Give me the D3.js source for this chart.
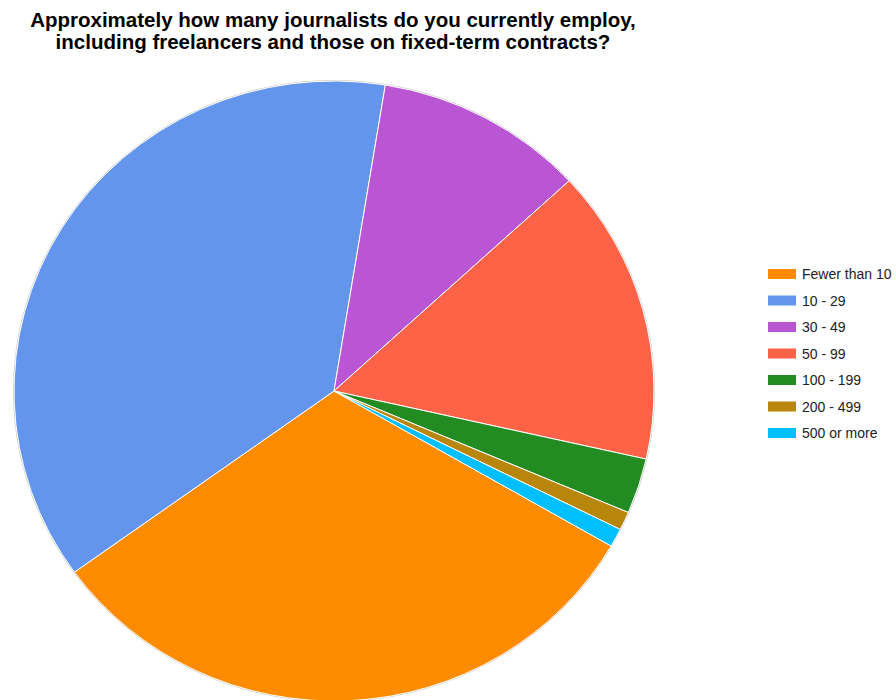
<!DOCTYPE html>
<html>
<head>
<meta charset="utf-8">
<script src="https://cdn.jsdelivr.net/npm/d3@7"></script>
<style>
  html, body { margin: 0; padding: 0; background: #fff; }
  svg { display: block; font-family: Arial, "Liberation Sans", sans-serif; }
</style>
</head>
<body>
<svg id="chart" width="896" height="700"></svg>
<script>
const titleLines = [
  "Approximately how many journalists do you currently employ,",
  "including freelancers and those on fixed-term contracts?"
];
const categories = ["Fewer than 10", "10 - 29", "30 - 49", "50 - 99", "100 - 199", "200 - 499", "500 or more"];
const values = [33, 39, 11, 16, 3, 1, 1];
const colors = ["#FF8C00", "#6495ED", "#BA55D3", "#FF6347", "#228B22", "#B8860B", "#00BFFF"];

const svg = d3.select("#chart");

const data = categories.map((c, i) => ({ category: c, value: values[i], color: colors[i] }));

const cx = 334, cy = 391, rx = 320, ry = 310;
const startDeg = 120;

const pie = d3.pie()
  .value(d => d.value)
  .sort(null)
  .startAngle(startDeg * Math.PI / 180)
  .endAngle((startDeg + 360) * Math.PI / 180);

const arc = d3.arc().innerRadius(0).outerRadius(rx);

const g = svg.append("g")
  .attr("transform", `translate(${cx},${cy}) scale(1,${ry / rx})`);

g.append("circle")
  .attr("r", rx + 0.5)
  .attr("fill", "none")
  .attr("stroke", "#c8c8c8")
  .attr("stroke-width", 1);

g.selectAll("path.slice")
  .data(pie(data))
  .join("path")
  .attr("class", "slice")
  .attr("d", arc)
  .attr("fill", d => d.data.color)
  .attr("stroke", "#ffffff")
  .attr("stroke-width", 1);

// Title
const title = svg.append("text")
  .attr("text-anchor", "middle")
  .attr("font-size", 20.5)
  .attr("font-weight", "bold")
  .attr("fill", "#000");
titleLines.forEach((t, i) => {
  title.append("tspan")
    .attr("x", 333)
    .attr("y", 26.5 + i * 22)
    .text(t);
});

// Legend
const legendY = d3.scalePoint()
  .domain(categories)
  .range([274, 433]);

const legend = svg.append("g");
const items = legend.selectAll("g.item")
  .data(data)
  .join("g")
  .attr("class", "item")
  .attr("transform", d => `translate(768,${legendY(d.category)})`);

items.append("rect")
  .attr("x", 0)
  .attr("y", -5)
  .attr("width", 28)
  .attr("height", 10)
  .attr("fill", d => d.color);

items.append("text")
  .attr("x", 34)
  .attr("y", 5)
  .attr("font-size", 14)
  .attr("fill", "#222")
  .text(d => d.category);
</script>
</body>
</html>
